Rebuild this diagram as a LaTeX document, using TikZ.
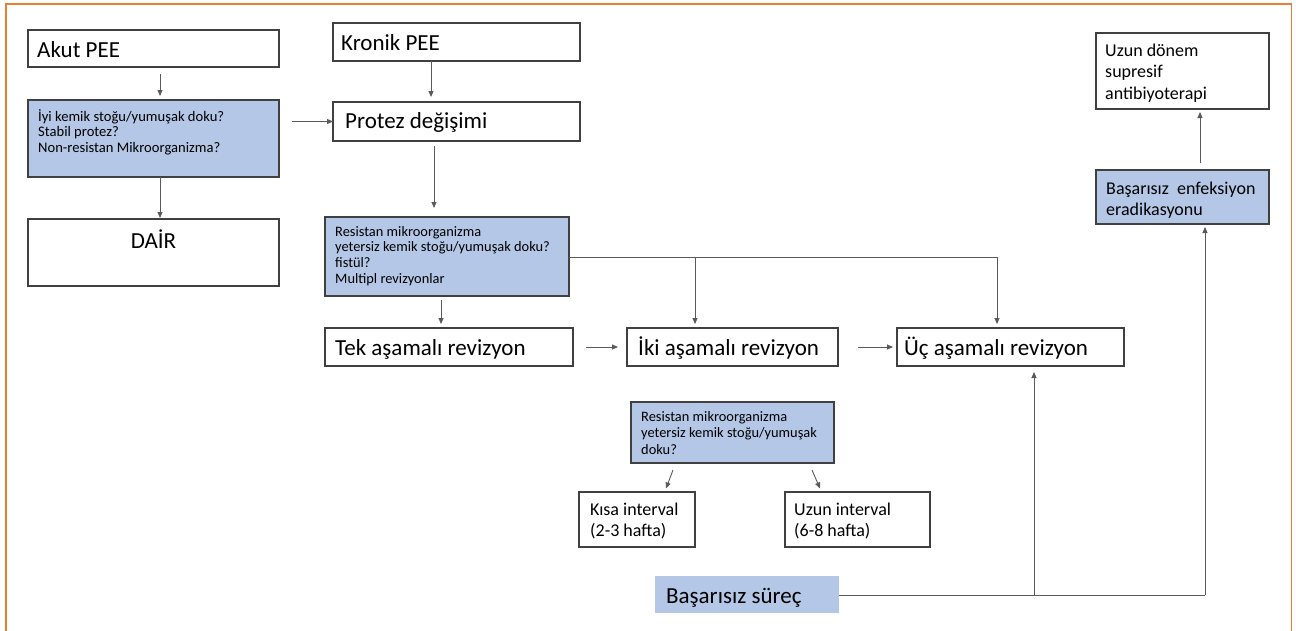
\documentclass[tikz,border=0pt]{standalone}
\usepackage{fontspec}
\setmainfont{Carlito}
\usetikzlibrary{arrows.meta,calc}
\definecolor{qblue}{HTML}{B4C7E7}
\definecolor{frameorange}{HTML}{ED7D31}
\definecolor{edgecol}{HTML}{404040}
\definecolor{conn}{HTML}{5A5A5A}
\newcommand{\mlines}[1]{\begin{tabular}[t]{@{}l@{}}#1\end{tabular}}
\tikzset{
  box/.style n args={2}{draw=edgecol, line width=1.3pt, rectangle, inner sep=0pt, outer sep=0pt, minimum width=#1, minimum height=#2, anchor=north west},
  qbox/.style n args={2}{box={#1}{#2}, fill=qblue},
  bigtxt/.style={inner sep=0pt, anchor=base west, font=\fontsize{23}{27}\selectfont},
  midtxt/.style={inner sep=0pt, anchor=base west, font=\fontsize{18}{21.8}\selectfont},
  smalltxt/.style={inner sep=0pt, anchor=base west, font=\fontsize{14.6}{15.7}\selectfont},
  arr/.style={draw=conn, line width=0.9pt, -{Triangle[length=6pt,width=5pt]}},
  ln/.style={draw=conn, line width=0.9pt},
}
\begin{document}
\begin{tikzpicture}[x=1pt,y=-1pt]
\useasboundingbox[fill=white] (0,0) rectangle (1296,630);
% frame
\draw[frameorange, line width=1.8pt] (6,632) -- (6,4) -- (1291.5,4) -- (1291.5,632);

% boxes
\node[box={251pt}{37pt}] (akut) at (28,30) {};
\node[bigtxt] (akutT) at (37,57) {Akut PEE};

\node[qbox={251pt}{77pt}] (q1) at (28,100) {};
\node[smalltxt] (q1T) at (38,121) {\mlines{İyi kemik stoğu/yumuşak doku?\\Stabil protez?\\Non-resistan Mikroorganizma?}};

\node[box={251pt}{67pt}] (dair) at (28,219) {};
\node[bigtxt, anchor=base] (dairT) at (153.5,248) {DAİR};

\node[box={247pt}{38pt}] (kronik) at (333,23) {};
\node[bigtxt] (kronikT) at (341,50.5) {Kronik PEE};

\node[box={247pt}{39pt}] (protez) at (333,102) {};
\node[bigtxt] (protezT) at (345,128) {Protez değişimi};

\node[qbox={244pt}{79pt}] (q2) at (325,217) {};
\node[smalltxt, font=\fontsize{14.4}{15.7}\selectfont] (q2T) at (335,236) {\mlines{Resistan mikroorganizma\\yetersiz kemik stoğu/yumuşak doku?\\fistül?\\Multipl revizyonlar}};

\node[box={248pt}{38pt}] (tek) at (325,328) {};
\node[bigtxt] (tekT) at (335,355) {Tek aşamalı revizyon};

\node[box={211pt}{38pt}] (iki) at (627,328) {};
\node[bigtxt] (ikiT) at (638,355) {İki aşamalı revizyon};

\node[box={227pt}{38pt}] (uc) at (897,328) {};
\node[bigtxt] (ucT) at (904,355) {Üç aşamalı revizyon};

\node[qbox={203pt}{61pt}] (q3) at (631,402) {};
\node[smalltxt, font=\fontsize{14.4}{16.7}\selectfont] (q3T) at (641,421) {\mlines{Resistan mikroorganizma\\yetersiz kemik stoğu/yumuşak\\doku?}};

\node[box={116pt}{55pt}] (kisa) at (579,492) {};
\node[midtxt] (kisaT) at (590,515) {\mlines{Kısa interval\\(2-3 hafta)}};

\node[box={145pt}{55pt}] (uzun) at (785,492) {};
\node[midtxt] (uzunT) at (794,515) {\mlines{Uzun interval\\(6-8 hafta)}};

\node[rectangle, fill=qblue, inner sep=0pt, minimum width=184pt, minimum height=37pt, anchor=north west] (bas) at (655,576) {};
\node[bigtxt] (basT) at (666,603) {Başarısız süreç};

\node[qbox={173pt}{54pt}] (enf) at (1096,170) {};
\node[midtxt] (enfT) at (1106,194) {\mlines{Başarısız\ \ enfeksiyon\\eradikasyonu}};

\node[box={173pt}{76pt}] (supp) at (1096,33) {};
\node[midtxt] (suppT) at (1105,56) {\mlines{Uzun dönem\\supresif\\antibiyoterapi}};

% coordinates for branch points
\coordinate (q2out) at (q2.east |- 0,257);
\coordinate (jIki) at (695,257);
\coordinate (jUc) at (997,257);
\coordinate (basout) at (bas.east |- 0,595);
\coordinate (jUcB) at (1034,595);
\coordinate (jCorner) at (1205,595);

% connectors
\draw[arr, shorten <=7pt, shorten >=4pt] ([xshift=6.5pt]akut.south) -- ([xshift=6.5pt]q1.north);
\draw[arr, shorten >=1pt] ([xshift=6.5pt]q1.south) -- ([xshift=6.5pt]dair.north);
\draw[arr, shorten <=13pt] (q1.east |- protez.west) -- (protez.west);
\draw[arr, shorten >=5pt] ([xshift=-25.5pt]kronik.south) -- ([xshift=-25.5pt]protez.north);
\draw[arr, shorten <=5pt, shorten >=9pt] (434,0 |- protez.south) -- (434,0 |- q2.north);
\draw[arr, shorten <=4pt, shorten >=4pt] (441,0 |- q2.south) -- (441,0 |- tek.north);
\draw[ln] (q2out) -- (jUc);
\draw[arr, shorten >=4pt] (jIki) -- (jIki |- iki.north);
\draw[arr, shorten >=4pt] (jUc) -- (jUc |- uc.north);
\draw[arr, shorten <=13pt, shorten >=9pt] (tek.east) -- (iki.west);
\draw[arr, shorten <=20pt, shorten >=4pt] (iki.east) -- (uc.west);
\draw[arr] (673,470) -- (666,488.5);
\draw[arr] (812,470) -- (820,488.5);
\draw[ln] (basout) -- (jCorner);
\draw[arr, shorten >=3pt] (jCorner) -- (jCorner |- enf.south);
\draw[arr, shorten >=6pt] (jUcB) -- (jUcB |- uc.south);
\draw[arr, shorten <=7pt, shorten >=3pt] ([xshift=17.5pt]enf.north) -- ([xshift=17.5pt]supp.south);
\end{tikzpicture}
\end{document}
